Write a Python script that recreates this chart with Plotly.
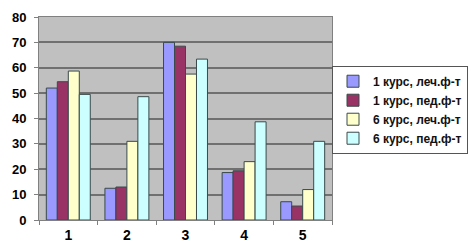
import plotly.graph_objects as go

categories = ["1", "2", "3", "4", "5"]
series_names = ["1 курс, леч.ф-т", "1 курс, пед.ф-т", "6 курс, леч.ф-т", "6 курс, пед.ф-т"]
s1 = [52, 12.5, 70, 18.7, 7.2]
s2 = [54.5, 13, 68.5, 19.4, 5.5]
s3 = [58.7, 31, 57.5, 23, 12]
s4 = [49.5, 48.6, 63.4, 38.7, 31]
colors = ["#9999FF", "#993366", "#FFFFCC", "#CCFFFF"]
y_ticks = [0, 10, 20, 30, 40, 50, 60, 70, 80]

fig = go.Figure()
for name, vals, col in zip(series_names, [s1, s2, s3, s4], colors):
    fig.add_trace(go.Bar(x=categories, y=vals, name=name,
                         marker=dict(color=col, line=dict(color="#3a4a4a", width=1))))

fig.update_layout(
    width=476, height=244,
    margin=dict(l=31, r=152, t=9, b=32, autoexpand=False),
    paper_bgcolor="white", plot_bgcolor="#C0C0C0",
    barmode="group", bargap=0.25, bargroupgap=0,
    font=dict(family="Liberation Sans, Arial", size=12, color="black"),
    showlegend=True,
    legend=dict(x=1.0, y=0.76, xanchor="left", yanchor="top",
                bordercolor="#555555", borderwidth=1, bgcolor="white",
                font=dict(size=12, family="Liberation Sans, Arial", color="#111111", weight="bold"),
                tracegroupgap=0, itemwidth=30),
)
fig.update_xaxes(type="category", tickson="boundaries", ticks="outside", ticklen=4,
                 tickcolor="#808080", showline=True, linecolor="#808080", linewidth=1,
                 tickfont=dict(size=14, family="Liberation Sans, Arial", weight="bold"),
                 ticklabelstandoff=2, automargin=False, ticklabeloverflow="allow",
                 mirror=True, showgrid=False)
fig.update_yaxes(range=[0, 80], tickvals=y_ticks, ticks="outside", ticklen=4,
                 tickcolor="#808080", showline=True, linecolor="#808080", linewidth=1,
                 mirror=True, gridcolor="#707070", gridwidth=1.5,
                 tickfont=dict(size=13, family="Liberation Sans, Arial", weight="bold"),
                 ticklabelstandoff=5, automargin=False, ticklabeloverflow="allow",
                 zeroline=False)
fig.write_html("out.html")
